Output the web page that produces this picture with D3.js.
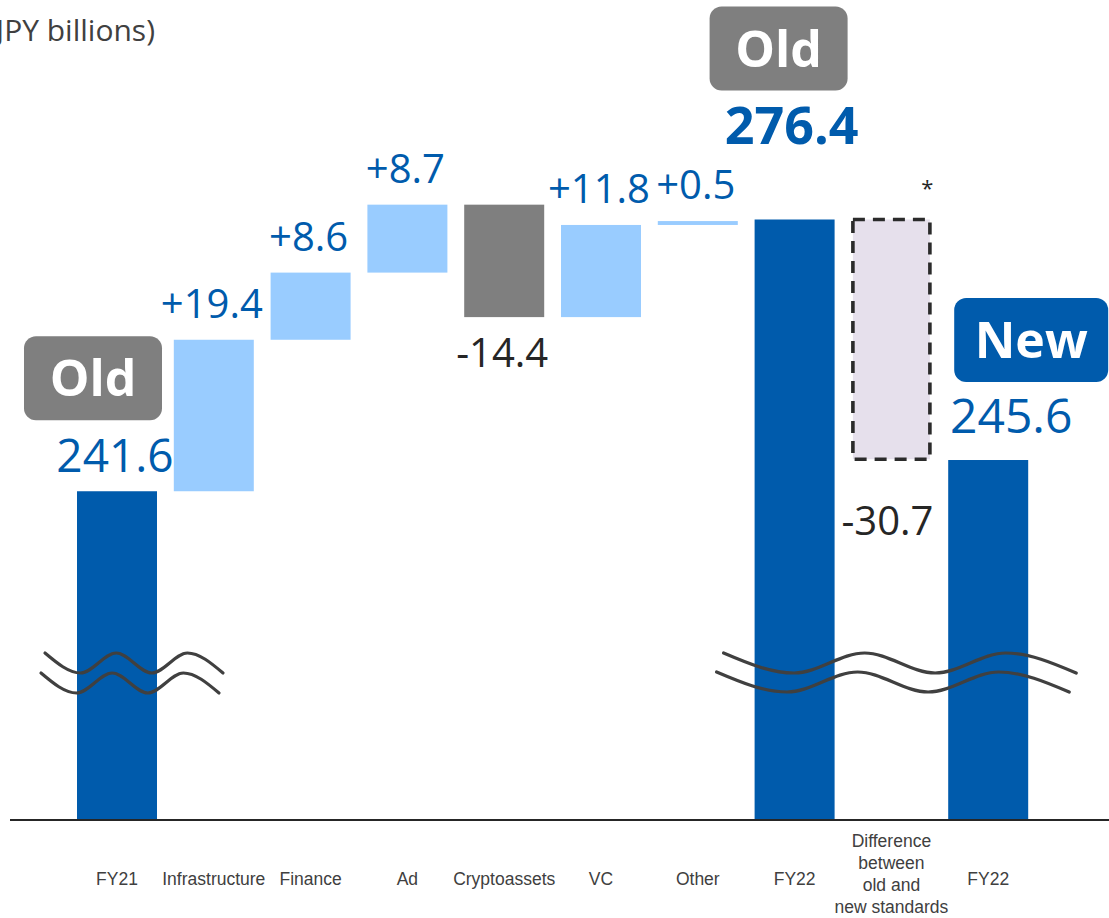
<!DOCTYPE html>
<html>
<head>
<meta charset="utf-8">
<script src="https://cdn.jsdelivr.net/npm/d3@7"></script>
<style>
  html, body { margin: 0; padding: 0; background: #ffffff; }
  svg { display: block; font-family: "Open Sans", "Noto Sans", sans-serif; }
</style>
</head>
<body>
<svg id="chart" width="1109" height="918"></svg>
<script>
// ---- Data (JPY billions) ----
const categories = [
  "FY21", "Infrastructure", "Finance", "Ad", "Cryptoassets",
  "VC", "Other", "FY22", "Difference between old and new standards", "FY22"
];
const categoryLines = [
  ["FY21"], ["Infrastructure"], ["Finance"], ["Ad"], ["Cryptoassets"],
  ["VC"], ["Other"], ["FY22"], ["Difference", "between", "old and", "new standards"], ["FY22"]
];
const startValue = 241.6;                               // FY21, old standard
const segmentChanges = [19.4, 8.6, 8.7, -14.4, 11.8, 0.5]; // Infrastructure … Other
const oldTotal = 276.4;                                 // FY22, old standard
const standardsDifference = -30.7;                      // old -> new standard
const newTotal = 245.6;                                 // FY22, new standard
const unitLabel = "(JPY billions)";

// ---- Layout ----
const W = 1109, H = 918;
const baselineY = 820;
const axisFloor = 199.5;          // value sitting on the (broken) baseline

const colors = {
  total: "#005BAC",
  increase: "#99CCFF",
  decrease: "#7F7F7F",
  adjustment: "#E6E0EC",
  blueText: "#005BAC",
  darkText: "#262626",
  axisText: "#404040"
};

const svg = d3.select("#chart");

const x = d3.scaleBand()
  .domain(d3.range(categories.length))
  .range([68.6, 1036.6])
  .paddingInner(0.1736)
  .paddingOuter(0.0868);

const y = d3.scaleLinear()
  .domain([axisFloor, oldTotal])
  .range([baselineY, 219.5]);

const fmt = v => v.toFixed(1);
const signed = v => (v >= 0 ? "+" : "-") + Math.abs(v).toFixed(1);

// ---- Build waterfall steps ----
const bars = [];
bars.push({ i: 0, kind: "total", from: axisFloor, to: startValue });
let running = startValue;
segmentChanges.forEach((d, k) => {
  bars.push({ i: k + 1, kind: d >= 0 ? "increase" : "decrease", from: running, to: running + d, change: d });
  running += d;
});
bars.push({ i: 7, kind: "total", from: axisFloor, to: oldTotal });
bars.push({ i: 8, kind: "adjustment", from: oldTotal, to: oldTotal + standardsDifference, change: standardsDifference });
bars.push({ i: 9, kind: "total", from: axisFloor, to: newTotal });

// ---- Unit label (runs off the left edge) ----
svg.append("text")
  .attr("x", 155).attr("y", 41)
  .attr("text-anchor", "end")
  .attr("font-size", 30)
  .attr("fill", colors.axisText)
  .text(unitLabel);

// ---- Bars ----
const barG = svg.append("g");
bars.forEach(b => {
  const top = y(Math.max(b.from, b.to));
  const bottom = y(Math.min(b.from, b.to));
  const r = barG.append("rect")
    .attr("x", x(b.i))
    .attr("y", top)
    .attr("width", x.bandwidth())
    .attr("height", Math.max(bottom - top, 1))
    .attr("fill", colors[b.kind]);
  if (b.kind === "adjustment") {
    r.attr("x", x(b.i) + 1.5).attr("width", x.bandwidth() - 3)
     .attr("stroke", "#2b2b2b")
     .attr("stroke-width", 3.6)
     .attr("stroke-dasharray", "12,8");
  }
});

// ---- Change labels ----
const labelG = svg.append("g").attr("font-size", 40);
bars.filter(b => b.kind === "increase").forEach(b => {
  labelG.append("text")
    .attr("x", x(b.i) + x.bandwidth() / 2 - 2)
    .attr("y", y(b.to) - 22)
    .attr("text-anchor", "middle")
    .attr("fill", colors.blueText)
    .text(signed(b.change));
});
bars.filter(b => b.kind === "decrease").forEach(b => {
  labelG.append("text")
    .attr("x", x(b.i) + x.bandwidth() / 2 - 2)
    .attr("y", y(b.to) + 50)
    .attr("text-anchor", "middle")
    .attr("fill", colors.darkText)
    .text(signed(b.change));
});
bars.filter(b => b.kind === "adjustment").forEach(b => {
  labelG.append("text")
    .attr("x", x(b.i) + x.bandwidth() / 2 - 4)
    .attr("y", y(b.to) + 76)
    .attr("text-anchor", "middle")
    .attr("fill", colors.darkText)
    .text(signed(b.change));
  // footnote marker
  svg.append("text")
    .attr("x", x(b.i) + x.bandwidth() - 4)
    .attr("y", y(b.from) - 24)
    .attr("text-anchor", "middle")
    .attr("font-size", 22)
    .attr("fill", colors.darkText)
    .text("*");
});

// ---- Badges ("Old" / "New") ----
function badge(cx, top, w, h, fill, label) {
  svg.append("rect")
    .attr("x", cx - w / 2).attr("y", top)
    .attr("width", w).attr("height", h)
    .attr("rx", 12).attr("ry", 12)
    .attr("fill", fill);
  svg.append("text")
    .attr("x", cx).attr("y", top + h / 2 + 18)
    .attr("text-anchor", "middle")
    .attr("font-size", 50)
    .attr("font-weight", 700)
    .attr("fill", "#ffffff")
    .text(label);
}

const cx = i => x(i) + x.bandwidth() / 2;

// FY21 (old)
badge(cx(0) - 24, y(startValue) - 155, 138, 84, colors.decrease, "Old");
svg.append("text")
  .attr("x", cx(0) - 2).attr("y", y(startValue) - 19)
  .attr("text-anchor", "middle")
  .attr("font-size", 46)
  .attr("fill", colors.blueText)
  .text(fmt(startValue));

// FY22 (old)
badge(cx(7) - 16, y(oldTotal) - 213, 138, 84, colors.decrease, "Old");
svg.append("text")
  .attr("x", cx(7) - 3).attr("y", y(oldTotal) - 76)
  .attr("text-anchor", "middle")
  .attr("font-size", 52)
  .attr("font-weight", 700)
  .attr("fill", colors.blueText)
  .text(fmt(oldTotal));

// FY22 (new)
badge(cx(9) + 43, y(newTotal) - 162, 154, 84, colors.total, "New");
svg.append("text")
  .attr("x", cx(9) + 23).attr("y", y(newTotal) - 27)
  .attr("text-anchor", "middle")
  .attr("font-size", 48)
  .attr("fill", colors.blueText)
  .text(fmt(newTotal));

// ---- Axis ----
const axis = d3.axisBottom(x).tickSize(0).tickFormat("");
const axisG = svg.append("g")
  .attr("transform", `translate(0,${baselineY})`)
  .call(axis);
axisG.select(".domain")
  .attr("d", `M10,0H${W}`)
  .attr("stroke", "#262626")
  .attr("stroke-width", 2.2);

axisG.selectAll(".tick").each(function (i) {
  const lines = categoryLines[i];
  const t = d3.select(this).append("text")
    .attr("text-anchor", "middle")
    .attr("font-size", 17.5)
    .attr("fill", colors.axisText);
  if (lines.length === 1) {
    t.append("tspan").attr("x", 0).attr("y", 65).text(lines[0]);
  } else {
    lines.forEach((ln, k) => {
      t.append("tspan").attr("x", 0).attr("y", 27 + k * 22).text(ln);
    });
  }
});

// ---- Axis break marks ----
const waveLine = d3.line().curve(d3.curveMonotoneX);
function breakMark(x0, x1, yTop, n) {
  const pts = d3.range(n + 1).map(k => [x0 + k * (x1 - x0) / n, k % 2 ? yTop + 20 : yTop]);
  svg.append("path")
    .attr("d", waveLine(pts))
    .attr("fill", "none")
    .attr("stroke", "#404040")
    .attr("stroke-width", 3.2)
    .attr("stroke-linecap", "round");
}
const bx0 = x(0), bx7 = x(7), bx9end = x(9) + x.bandwidth();
breakMark(bx0 - 32, bx0 + 146, 653, 5);
breakMark(bx0 - 36, bx0 + 142, 673, 5);
breakMark(bx7 - 31, bx9end + 48, 653, 5);
breakMark(bx7 - 38, bx9end + 41, 672, 5);
</script>
</body>
</html>
